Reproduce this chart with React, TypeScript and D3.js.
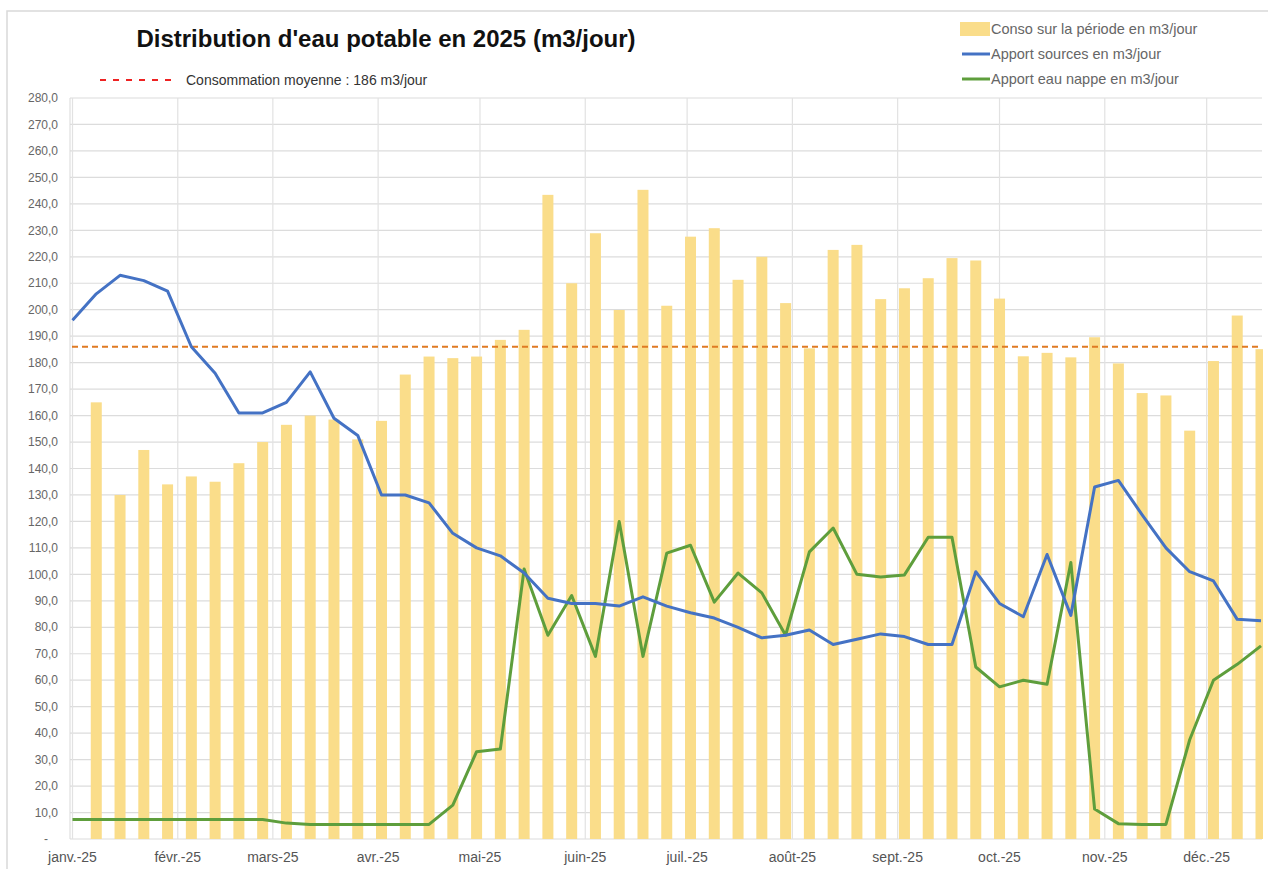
import React from 'react';
import * as d3 from 'd3';

// weekly consumption (bars), first week has no bar
const consoValues: (number | null)[] = [
  null, 165, 130, 147, 134, 137, 135, 142, 150, 156.5, 160, 158.5, 151, 158,
  175.5, 182.3, 181.7, 182.3, 188.6, 192.4, 243.4, 210, 228.9, 199.9, 245.3, 201.5,
  227.6, 230.8, 211.3, 220, 202.5, 185.4, 222.6, 224.5, 204, 208.1, 211.9, 219.5,
  218.6, 204.2, 182.4, 183.7, 182, 189.6, 179.7, 168.5, 167.6, 154.3, 180.6, 197.8, 185.1,
];

const sourcesValues = [
  196, 206, 213, 211, 207, 186, 176, 161, 161, 165, 176.5, 159, 152.5,
  130, 130, 127, 115.5, 110, 107, 100.5, 91, 89, 89, 88, 91.5, 88,
  85.5, 83.5, 80, 76, 77, 79, 73.5, 75.5, 77.5, 76.5, 73.5, 73.5,
  101, 89, 84, 107.5, 84.5, 133, 135.5, 122.5, 110, 101, 97.5, 83, 82.5,
];

const nappeValues = [
  7.4, 7.4, 7.4, 7.4, 7.4, 7.4, 7.4, 7.4, 7.4, 6, 5.5, 5.5, 5.5,
  5.5, 5.5, 5.5, 12.8, 33, 34, 102, 77, 92, 69, 120, 69, 108,
  111, 89.5, 100.5, 93, 77, 108.5, 117.5, 100, 99, 99.8, 114, 114,
  65, 57.5, 60, 58.5, 104.5, 11.3, 5.8, 5.5, 5.5, 37.5, 60, 66, 73,
];

const avgConso = 186;

const monthLabels = [
  'janv.-25', 'févr.-25', 'mars-25', 'avr.-25', 'mai-25', 'juin-25',
  'juil.-25', 'août-25', 'sept.-25', 'oct.-25', 'nov.-25', 'déc.-25',
];

const legendItems = [
  { label: 'Conso sur la période en m3/jour', color: '#fadd8a', kind: 'bar' },
  { label: 'Apport sources en m3/jour', color: '#4472c4', kind: 'line' },
  { label: 'Apport eau nappe en m3/jour', color: '#5e9e3c', kind: 'line' },
];

const startDate = new Date(2025, 0, 1);
const dates = sourcesValues.map((_, i) => d3.timeDay.offset(startDate, i * 7));

const font = "'Liberation Sans', Arial, sans-serif";

export default function App() {
  const left = 70;
  const right = 1262;
  const top = 98;
  const bottom = 839;

  const x = d3.scaleTime()
    .domain([dates[0], dates[dates.length - 1]])
    .range([left + 2.5, right - 1]);
  const y = d3.scaleLinear().domain([0, 280]).range([bottom, top]);

  const yTicks = d3.range(0, 281, 10);
  const months = d3.timeMonth.range(startDate, new Date(2025, 11, 2));
  const fmt = (v: number) => (v === 0 ? '-' : d3.format('.1f')(v).replace('.', ','));

  const line = d3.line<number>()
    .x((_, i) => x(dates[i]))
    .y(d => y(d));

  const barW = 11;

  return (
    <svg width={1268} height={869} style={{ position: 'absolute', left: 0, top: 0, background: '#fff' }}>
      <defs>
        <clipPath id="plot">
          <rect x={left} y={top - 5} width={right - left + 1} height={bottom - top + 10} />
        </clipPath>
      </defs>
      {/* chart frame */}
      <rect x={7} y={11} width={1300} height={900} fill="none" stroke="#d9d9d9" strokeWidth={1.5} />

      {/* grid */}
      <g>
        {yTicks.map(t => (
          <line key={t} x1={left} x2={right} y1={y(t)} y2={y(t)} stroke="#dcdcdc" strokeWidth={1.2} />
        ))}
        {months.map((m, i) => (
          <line key={i} x1={x(m)} x2={x(m)} y1={top} y2={bottom} stroke="#e2e2e2" strokeWidth={1.2} />
        ))}
        <line x1={left} x2={left} y1={top} y2={bottom} stroke="#d9d9d9" />
      </g>

      {/* y labels */}
      <g fontFamily={font} fontSize={12} fill="#666">
        {yTicks.map(t => (
          <text key={t} x={t === 0 ? 48 : 58} y={y(t)} dy="0.35em" textAnchor="end">{fmt(t)}</text>
        ))}
      </g>

      {/* x labels */}
      <g fontFamily={font} fontSize={14} fill="#555">
        {months.map((m, i) => (
          <text key={i} x={x(m)} y={862} textAnchor="middle">{monthLabels[i]}</text>
        ))}
      </g>

      <g clipPath="url(#plot)">
        {/* bars */}
        {consoValues.map((v, i) => v == null ? null : (
          <rect key={i} x={x(dates[i]) - barW / 2} y={y(v)} width={barW} height={y(0) - y(v)} fill="#fadd8a" />
        ))}
        {/* average */}
        <line x1={left + 2} x2={right} y1={y(avgConso)} y2={y(avgConso)} stroke="#e07a22" strokeWidth={2} strokeDasharray="6,4" />
        <path d={line(nappeValues) || ''} fill="none" stroke="#5e9e3c" strokeWidth={3} strokeLinejoin="round" />
        <path d={line(sourcesValues) || ''} fill="none" stroke="#4472c4" strokeWidth={3} strokeLinejoin="round" />
      </g>

      {/* title */}
      <text x={386} y={47} textAnchor="middle" fontFamily={font} fontWeight="bold" fontSize={24} fill="#111">
        Distribution d'eau potable en 2025 (m3/jour)
      </text>

      {/* average legend */}
      <line x1={100} x2={176} y1={80} y2={80} stroke="#ee2222" strokeWidth={2} strokeDasharray="6,7" />
      <text x={186} y={85} fontFamily={font} fontSize={14} fill="#333">Consommation moyenne : {avgConso} m3/jour</text>

      {/* series legend */}
      <g fontFamily={font} fontSize={14.5} fill="#666">
        {legendItems.map((d, i) => (
          <g key={d.label} transform={`translate(960, ${29 + i * 25})`}>
            {d.kind === 'bar'
              ? <rect x={0} y={-7} width={30} height={14} fill={d.color} />
              : <line x1={2} x2={30} y1={0} y2={0} stroke={d.color} strokeWidth={3} />}
            <text x={31} y={0} dy="0.35em">{d.label}</text>
          </g>
        ))}
      </g>
    </svg>
  );
}
